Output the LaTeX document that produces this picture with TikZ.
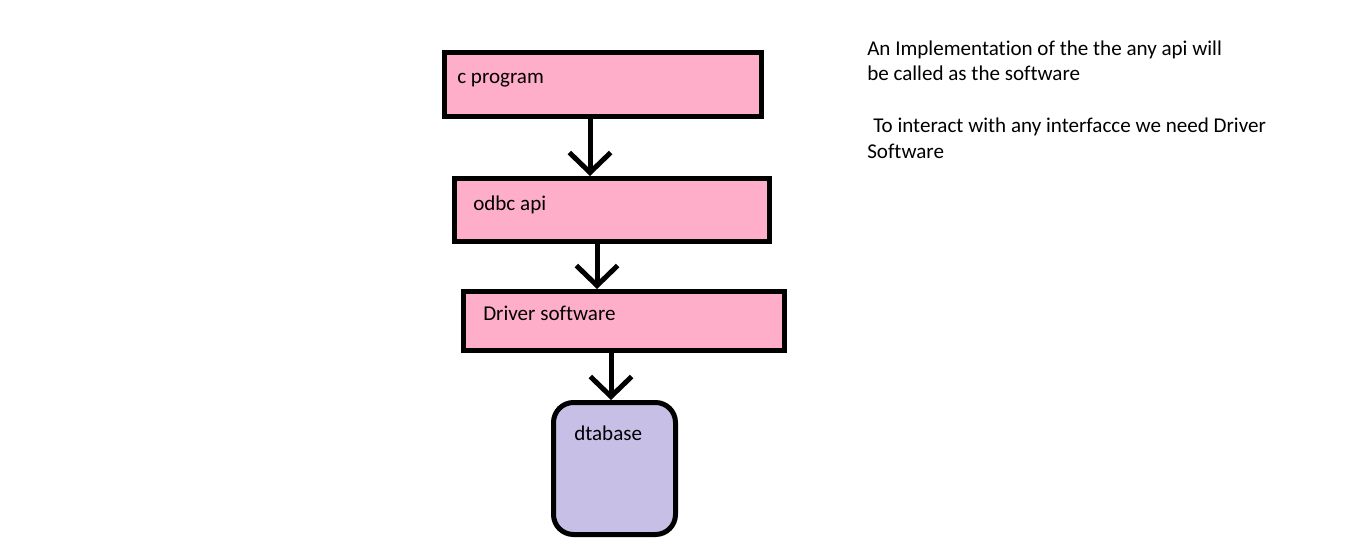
\documentclass[tikz,border=0pt]{standalone}
\usepackage{fontspec}
\setmainfont{Carlito}[Ligatures=NoCommon]
\usepackage{tikz}
\usetikzlibrary{calc,arrows.meta}

\definecolor{rosefill}{HTML}{FFAEC9}
\definecolor{lavfill}{HTML}{C8BFE7}

\begin{document}
\begin{tikzpicture}[x=0.75pt,y=-0.75pt,
    layer/.style={draw=black,line width=3.75pt,fill=rosefill,inner sep=0pt},
    store/.style={draw=black,line width=3.75pt,fill=lavfill,inner sep=0pt,rounded corners=15pt},
    lbl/.style={anchor=base west,inner sep=0pt,font=\fontsize{15.8}{19}\selectfont},
    flow/.style={line width=3.75pt,-{Straight Barb[length=15pt,width=31pt]}}]
    \useasboundingbox (0,0) rectangle (1346,554);
    % boxes
    \node[layer,minimum width=237.75pt,minimum height=48pt] (cprog) at (602.5,84.5) {};
    \node[layer,minimum width=236.25pt,minimum height=47.25pt] (odbc) at (612,210) {};
    \node[layer,minimum width=240.75pt,minimum height=44.25pt] (driver) at (624,321) {};
    \node[store,minimum width=91.5pt,minimum height=99pt] (db) at (614.5,468.5) {};
    \node[lbl] (cprogtxt) at (457,83) {c program};
    \node[lbl] (odbctxt) at (473,210) {odbc api};
    \node[lbl] (drivertxt) at (483,320) {Driver software};
    \node[lbl] (dbtxt) at (574,440) {dtabase};
    % arrows
    \draw[flow] ($(cprog.south)+(-12.5,0)$) -- ($(odbc.north)+(-22,0)$);
    \draw[flow] ($(odbc.south)+(-15,0)$) -- ($(driver.north)+(-27,0)$);
    \draw[flow] ($(driver.south)+(-13,0)$) -- ($(db.north)+(-3.5,0)$);
    % note
    \node[lbl] (note1) at (867,55) {An Implementation of the the any api will};
    \node[lbl] (note2) at (867,80) {be called as the software};
    \node[lbl] (note3) at (873,132) {To interact with any interfacce we need Driver};
    \node[lbl] (note4) at (867,158) {Software};
\end{tikzpicture}
\end{document}
